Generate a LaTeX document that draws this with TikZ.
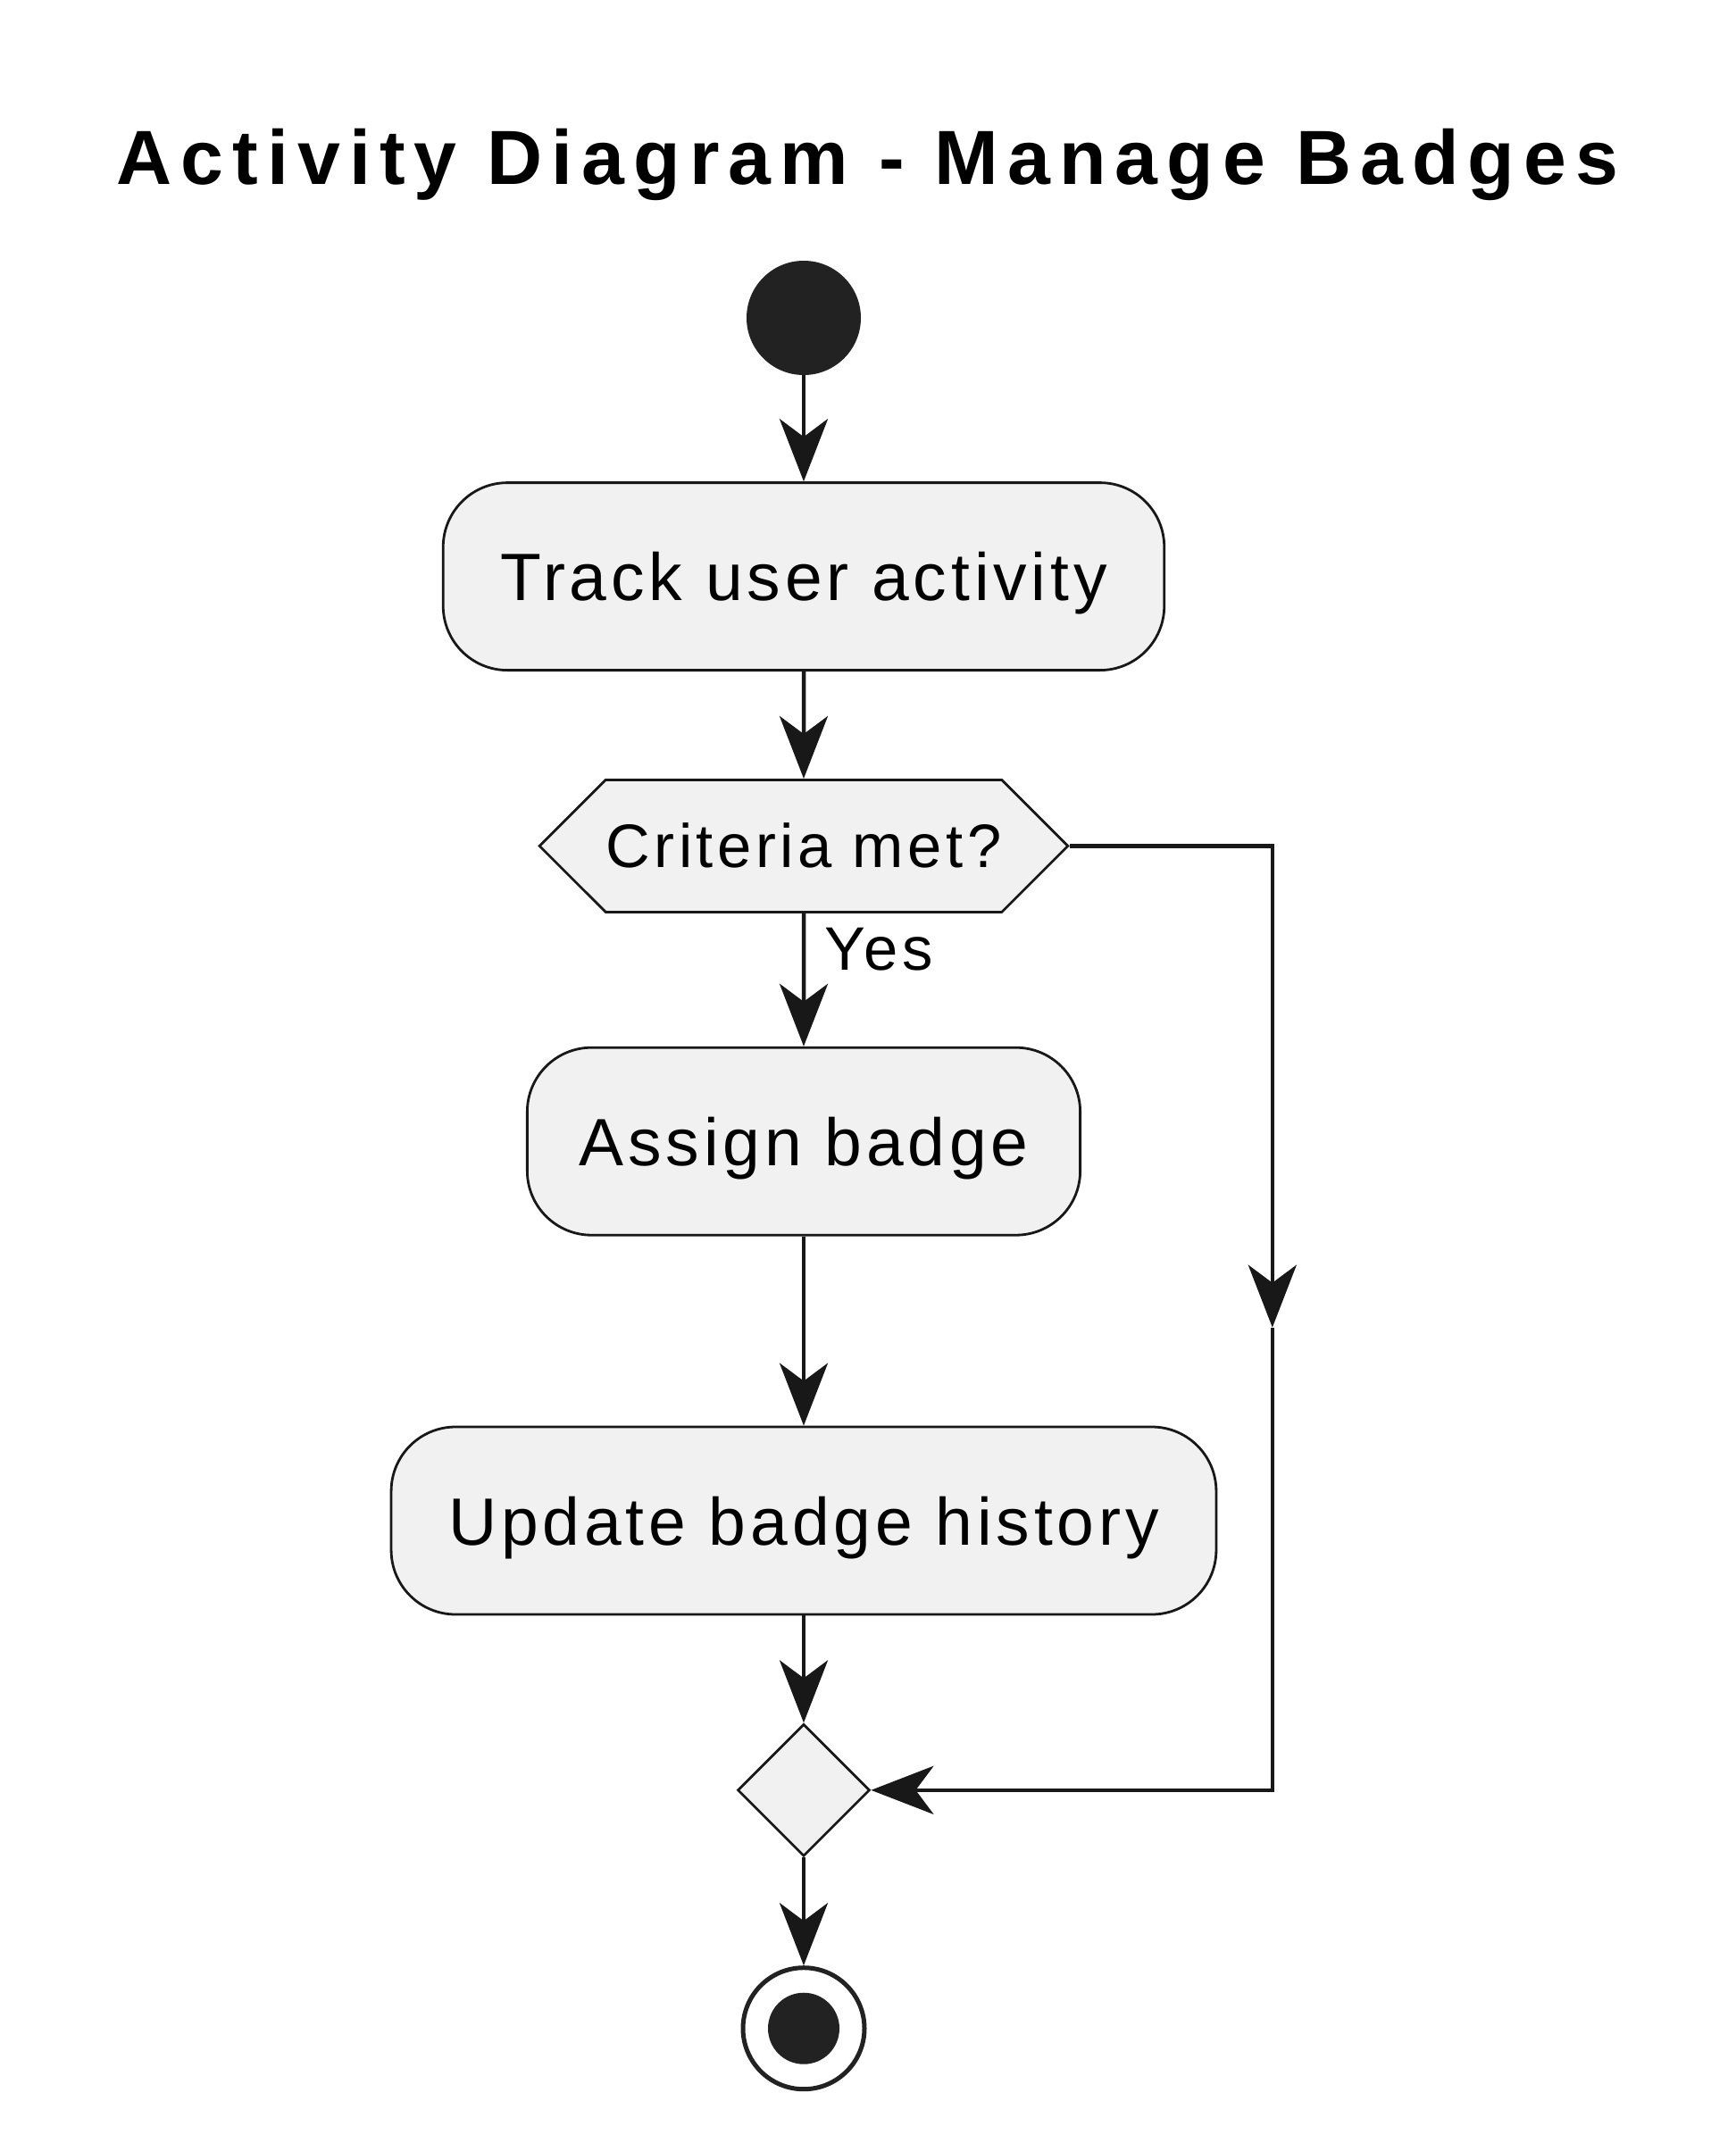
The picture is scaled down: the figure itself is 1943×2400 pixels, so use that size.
\documentclass[tikz,border=0pt]{standalone}
\usepackage{fontspec}
\setmainfont{Liberation Sans}
\newfontfamily\actfont[LetterSpace=6.5]{Liberation Sans}
\newfontfamily\titlefont[LetterSpace=11.7]{Liberation Sans}
\usepackage{tikz}
\usetikzlibrary{positioning,arrows.meta,shapes.geometric,shapes.symbols}
\definecolor{actfill}{HTML}{F1F1F1}
\definecolor{actline}{HTML}{181818}
\definecolor{dotfill}{HTML}{222222}
\def\ActGap{120pt}
\def\ActHeight{210pt}

\begin{document}
\begin{tikzpicture}[x=1pt,y=-1pt,
		act/.style={draw=actline,fill=actfill,line width=2.8pt,rounded corners=72pt,
			minimum height=\ActHeight,inner xsep=64pt,inner ysep=0pt,
			font=\actfont\fontsize{75}{90}\selectfont,text height=54pt,text depth=0pt},
		crit/.style={draw=actline,fill=actfill,line width=2.8pt,signal,signal to=west and east,
			signal pointer angle=90,minimum height=148pt,inner xsep=0.5pt,inner ysep=0pt,
			font=\actfont\fontsize{68.75}{80}\selectfont,text height=49pt,text depth=0pt},
		merge/.style={draw=actline,fill=actfill,line width=2.8pt,diamond,aspect=1,
			minimum size=148pt,inner sep=0pt},
		startdot/.style={circle,fill=dotfill,minimum size=128pt,inner sep=0pt},
		stopring/.style={circle,draw=dotfill,fill=white,line width=5pt,minimum size=136pt,inner sep=0pt},
		stopdot/.style={circle,fill=dotfill,minimum size=80pt,inner sep=0pt},
		flow/.style={draw=actline,line width=4.5pt,
			-{Stealth[length=70pt,width=54pt,inset=20pt]}}]
	\useasboundingbox (0,0) rectangle (1943,2400);
	\node[anchor=base,font=\titlefont\bfseries\fontsize{86}{100}\selectfont] (title) at (971.5,207) {Activity Diagram - Manage Badges};
	% 
	\node[startdot] (start) at (900,356) {};
	\node[act,below=119pt of start] (track) {Track user activity};
	\node[crit,below=\ActGap of track] (check) {Criteria met?};
	\node[act,below=149pt of check,inner xsep=58pt] (assign) {Assign badge};
	\node[act,below=212pt of assign] (history) {Update badge history};
	\node[merge,below=\ActGap of history] (join) {};
	\node[stopring,below=121pt of join] (stop) {};
	\node[stopdot] (stopin) at (stop) {};
	% 
	\coordinate[right=227pt of check.east] (checkR);
	\coordinate (joinR) at (checkR |- join);
	\path (checkR) -- (joinR) coordinate[pos=0.51] (midR);
	% 
	\draw[flow] (start) -- (track);
	\draw[flow] (track) -- (check);
	\draw[flow] (check) -- node[pos=0.43,anchor=base west,xshift=18pt,
		font=\actfont\fontsize{68.75}{80}\selectfont] (yes) {Yes} (assign);
	\draw[flow] (assign) -- (history);
	\draw[flow] (history) -- (join);
	\draw[flow] (join) -- (stop);
	\draw[flow] (check.east) -- (checkR) -- (midR);
	\draw[flow] (midR) -- (joinR) -- (join.east);
\end{tikzpicture}
\end{document}
